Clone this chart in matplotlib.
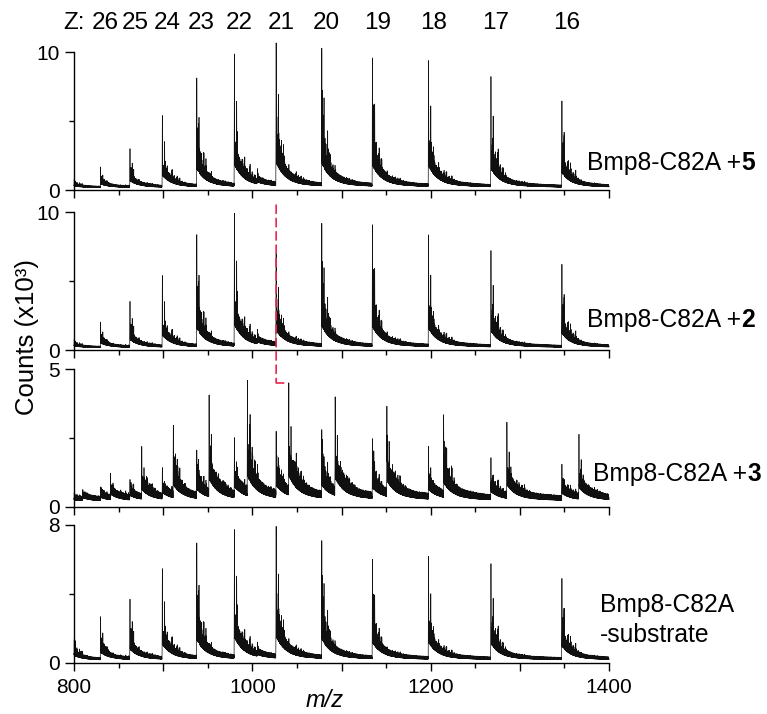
import numpy as np
import matplotlib
matplotlib.use("Agg")
import matplotlib.pyplot as plt
from matplotlib.patches import ConnectionPatch
from matplotlib.ticker import FixedLocator, FuncFormatter
from matplotlib.transforms import blended_transform_factory

plt.rcParams['font.family'] = ['Liberation Sans', 'DejaVu Sans']

# Charge-state series of the intact protein (m/z of each apex)
charges = [27, 26, 25, 24, 23, 22, 21, 20, 19, 18, 17, 16]
peak_mz = [798.8, 829.8, 862.8, 899.1, 937.7, 979.9, 1026.7, 1077.9,
           1134.7, 1197.6, 1267.6, 1347.2]

# Apex intensities (x10^3 counts) for each sample
heights_plus5 = [1.0, 1.67, 3.0, 5.41, 8.12, 9.88, 10.68, 10.3, 9.59, 9.4, 8.24, 6.45]
heights_plus2 = [1.0, 2.03, 3.53, 5.41, 8.36, 9.93, 7.0, 9.2, 9.09, 8.36, 7.22, 6.21]
heights_plus3 = [0.4, 0.73, 1.0, 1.43, 2.06, 2.52, 2.75, 2.81, 2.48, 2.2, 1.79, 1.55]
heights_nosub = [2.0, 2.69, 3.71, 5.48, 6.96, 7.75, 7.94, 7.11, 6.02, 6.19, 5.77, 4.9]

# Modified species seen in the +3 sample
shifted_mz = [809.9, 841.0, 876.0, 911.4, 951.5, 994.5, 1040.9, 1092.9,
              1150.9, 1214.5, 1285.5, 1366.3]
heights_shifted = [0.63, 1.23, 2.2, 2.97, 4.06, 4.6, 4.5, 4.0, 3.66, 3.35, 3.08, 2.64]

# Minor cluster on the tail of the 22+ ion, per panel
cluster_mz = 1005.5
cluster_heights = [0.9, 0.8, 0.2, 0.6]

panel_names = ["Bmp8-C82A +", "Bmp8-C82A +", "Bmp8-C82A +", "Bmp8-C82A\n-substrate"]
panel_suffix = ["5", "2", "3", ""]
panel_ymax = [10, 10, 5, 8]
label_charges = [26, 25, 24, 23, 22, 21, 20, 19, 18, 17, 16]

# ------------------------------------------------------------------
mz = np.arange(800.0, 1400.0, 0.03)
# fast fine structure (unresolved adducts) and sparse resolved adduct lines
c1 = 0.5 + 0.5 * np.cos(2 * np.pi * mz / 0.37)
c2 = 0.5 + 0.5 * np.cos(2 * np.pi * mz / 0.229 + 1.3)
fast = c1 * c2
amp = 0.3 + 0.7 * (0.5 + 0.5 * np.cos(2 * np.pi * mz / 2.9 + 0.5)) * \
      (0.5 + 0.5 * np.cos(2 * np.pi * mz / 7.3 + 2.0))
lines = (0.5 + 0.5 * np.cos(2 * np.pi * mz / 0.75)) ** 10 * amp


def spectrum(centres, heights, floor=0.15):
    """Native-MS trace: sharp apex, adduct shoulder and decaying adduct tail."""
    y = floor * (1.0 + 0.7 * fast)
    spikes = np.zeros_like(mz)
    for c, h in zip(centres, heights):
        d = mz - c
        right = d >= 0
        dd = np.where(right, d, 0.0)
        upper = np.where(right, h * (0.65 * np.exp(-dd / 9) + 0.10 * np.exp(-dd / 35)), 0.0)
        lower = np.where(right, h * (0.28 * np.exp(-dd / 10) + 0.035 * np.exp(-dd / 60)), 0.0)
        y = y + lower * (0.5 + 0.5 * fast) + (upper - lower) * lines
        apex = h * np.exp(-0.5 * (d / 0.15) ** 2)
        shoulder = 0.65 * h * np.exp(-0.5 * ((d - 2.5) / 0.15) ** 2)
        spikes = np.maximum(spikes, np.maximum(apex, shoulder))
    return np.maximum(y, spikes)


traces = [
    spectrum(peak_mz + [cluster_mz], heights_plus5 + [cluster_heights[0]]),
    spectrum(peak_mz + [cluster_mz], heights_plus2 + [cluster_heights[1]]),
    spectrum(peak_mz + shifted_mz, heights_plus3 + heights_shifted, floor=0.2),
    spectrum(peak_mz + [cluster_mz], heights_nosub + [cluster_heights[3]]),
]

W, H = 767, 714
fig = plt.figure(figsize=(W / 100, H / 100), dpi=100)

left, right = 74 / W, 609 / W
panel_px = [(52, 190), (212, 350), (369, 507), (525, 663)]
axes = []
for i, (top, bot) in enumerate(panel_px):
    ax = fig.add_axes([left, 1 - bot / H, right - left, (bot - top) / H])
    axes.append(ax)
    ax.plot(mz, traces[i], color='#101010', lw=0.5, clip_on=False)
    ymax = panel_ymax[i]
    ax.set_xlim(800, 1400)
    ax.set_ylim(0, ymax)
    for s in ('top', 'right'):
        ax.spines[s].set_visible(False)
    for s in ('left', 'bottom'):
        ax.spines[s].set_linewidth(1.0)
    ax.xaxis.set_major_locator(FixedLocator(np.arange(800, 1401, 100)))
    ax.xaxis.set_minor_locator(FixedLocator(np.arange(850, 1400, 100)))
    ax.yaxis.set_major_locator(FixedLocator([0, ymax]))
    ax.yaxis.set_minor_locator(FixedLocator([ymax / 2]))
    ax.yaxis.set_major_formatter(FuncFormatter(lambda v, p: f"{v:g}"))
    if i == 3:
        ax.xaxis.set_major_formatter(
            FuncFormatter(lambda v, p: f"{v:g}" if int(round(v)) % 200 == 0 else ""))
    else:
        ax.tick_params(axis='x', labelbottom=False)
    ax.tick_params(axis='both', which='major', direction='out', width=1.0, labelsize=15)
    ax.tick_params(axis='y', which='major', length=6.5, pad=4)
    ax.tick_params(axis='x', which='major', length=5.5, pad=5)
    ax.tick_params(axis='both', which='minor', direction='out', width=1.0, length=3.5)

# charge-state labels above the top panel
trans = blended_transform_factory(axes[0].transData, fig.transFigure)
for z, c in zip(charges, peak_mz):
    if z in label_charges:
        axes[0].annotate(str(z), xy=(c, 1 - 23 / H), xycoords=trans,
                         xytext=(3.5, 0), textcoords='offset points',
                         ha='center', va='center', fontsize=17.5, annotation_clip=False)
fig.text(63 / W, 1 - 23 / H, "Z:", ha='left', va='center', fontsize=17.5)

# sample labels on the right
label_x = [587, 587, 593, 600]
label_base = [170, 326.7, 480.7, 611.7]
for i in range(4):
    if panel_suffix[i]:
        t = fig.text(label_x[i] / W, 1 - label_base[i] / H, panel_names[i],
                     ha='left', va='baseline', fontsize=17.7)
        axes[i].annotate(panel_suffix[i], xy=(1, 0), xycoords=t,
                         ha='left', va='bottom', fontsize=17.7, fontweight='bold')
    else:
        first, second = panel_names[i].split("\n")
        fig.text(label_x[i] / W, 1 - label_base[i] / H, first,
                 ha='left', va='baseline', fontsize=17.7)
        fig.text(label_x[i] / W, 1 - 641.7 / H, second,
                 ha='left', va='baseline', fontsize=17.7)

fig.text(27 / W, 1 - 337 / H, "Counts (x10³)", rotation=90,
         ha='center', va='center', fontsize=18.5)
fig.text(325 / W, 1 - 712 / H, "m/z", style='italic', ha='center', va='bottom', fontsize=17)

# dashed guide from the 21+ ion to its modified counterpart
red = '#e8264f'
apex21 = peak_mz[charges.index(21)]
apex21_mod = shifted_mz[charges.index(21)]
h_mod = heights_shifted[charges.index(21)]
con = ConnectionPatch(xyA=(apex21, 10.5), coordsA=axes[1].transData,
                      xyB=(apex21, h_mod), coordsB=axes[2].transData,
                      color=red, lw=1.2, linestyle=(0, (5, 3)), zorder=10)
fig.add_artist(con)
axes[2].plot([apex21, apex21_mod - 1.5], [h_mod, h_mod], color=red, lw=1.2,
             linestyle=(0, (5, 3)), clip_on=False, zorder=10)

fig.savefig("out.png", dpi=100)
